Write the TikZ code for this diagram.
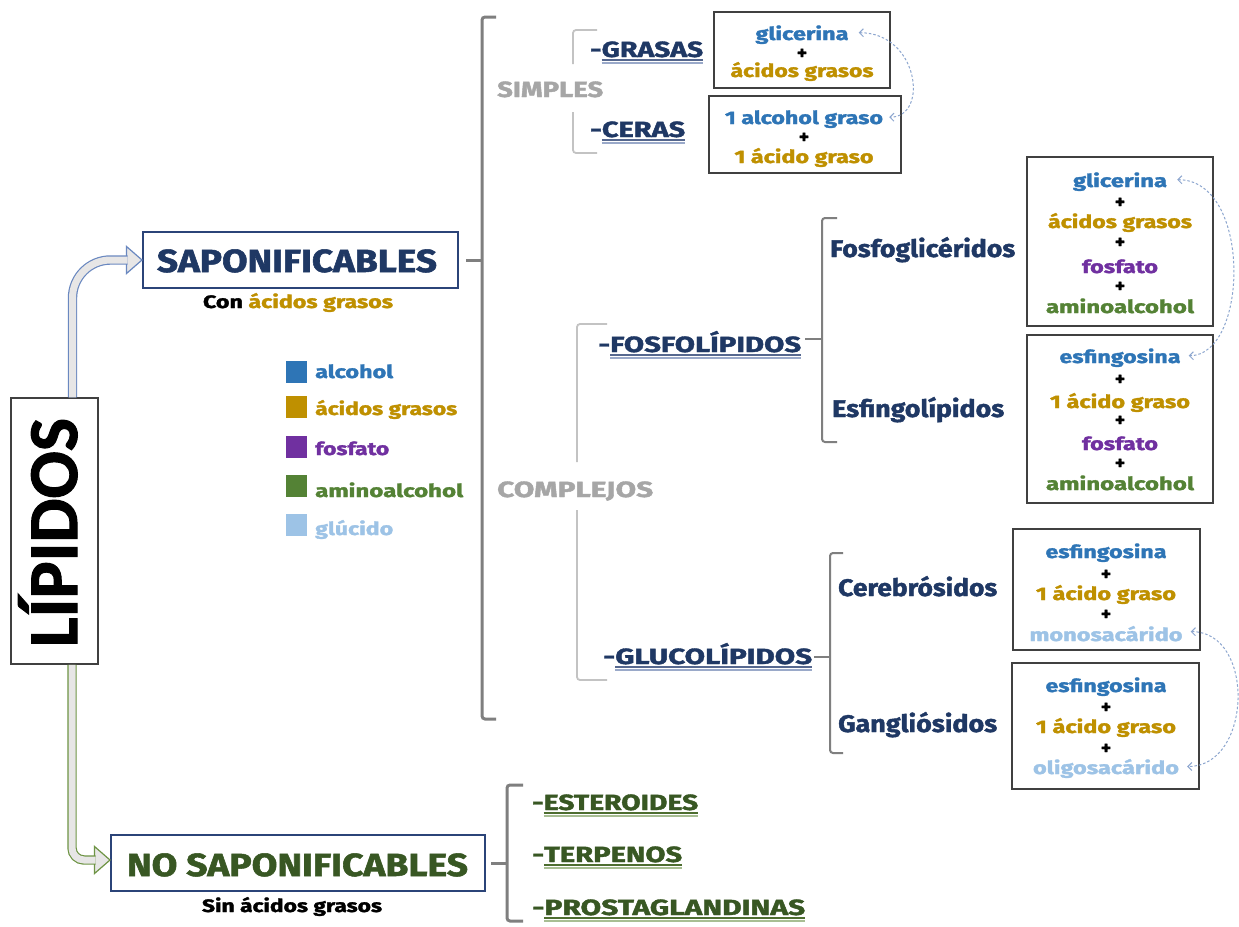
\documentclass[tikz,border=0pt]{standalone}
\usepackage{fontspec}
\setmainfont{Fira Sans}[BoldFeatures={FakeBold=1.6}]
\newfontfamily\titlefont{Carlito}[BoldFeatures={FakeBold=1.5}]
\usetikzlibrary{arrows.meta}

\definecolor{navy}{HTML}{1F3864}
\definecolor{navybox}{HTML}{2B4478}
\definecolor{ulnavyA}{HTML}{56688F}
\definecolor{ulnavyB}{HTML}{9AA9C9}
\definecolor{ulgreenA}{HTML}{4E6E30}
\definecolor{ulgreenB}{HTML}{A8BE93}
\definecolor{dgreen}{HTML}{385723}
\definecolor{brgrey}{HTML}{7F7F7F}
\definecolor{brlight}{HTML}{C3C3C3}
\definecolor{labgrey}{HTML}{A6A6A6}
\definecolor{boxgrey}{HTML}{404040}
\definecolor{cblue}{HTML}{2E75B6}
\definecolor{cgold}{HTML}{BF9000}
\definecolor{cpurple}{HTML}{7030A0}
\definecolor{cgreen}{HTML}{548235}
\definecolor{clight}{HTML}{9DC3E6}
\definecolor{arrblue}{HTML}{6A88C0}
\definecolor{arrgreen}{HTML}{6E9444}
\definecolor{arrfill}{HTML}{E7E6E6}
\definecolor{dashcol}{HTML}{8DA6CF}

% font size helper and horizontal fit to a given width
\newcommand\fsz[1]{\fontsize{#1}{#1}\selectfont}
\newcommand\fw[2]{\resizebox{#1pt}{\height}{#2}}
% double underline in two colours
\newsavebox\ulbox
\newcommand\dul[3]{\sbox\ulbox{#3}\rlap{\color{#1}\rule[-3.8pt]{\wd\ulbox}{1.4pt}}\rlap{\color{#2}\rule[-6.6pt]{\wd\ulbox}{1.4pt}}\usebox\ulbox}

\begin{document}
\begin{tikzpicture}[x=1pt,y=-1pt,font=\bfseries,
  txt/.style={inner sep=0pt,anchor=base},
  ltxt/.style={inner sep=0pt,anchor=base west},
  plus/.style={inner sep=0pt,anchor=center,font=\bfseries\fsz{19}},
  cbox/.style={draw=boxgrey,line width=1.5pt,inner sep=0pt},
  mainbox/.style={draw=navybox,line width=2pt,inner sep=0pt},
  bigbrk/.style={draw=brgrey,line width=3pt,rounded corners=3pt},
  midbrk/.style={draw=brgrey,line width=2pt,rounded corners=3pt},
  lightbrk/.style={draw=brlight,line width=1.8pt,rounded corners=3pt},
  dsh/.style={draw=dashcol,line width=1pt,dash pattern=on 2.5pt off 2pt,
    {Straight Barb[length=4pt,width=8pt]}-{Straight Barb[length=4pt,width=8pt]}},
  sq/.style={inner sep=0pt,minimum width=21pt,minimum height=22pt},
]
\useasboundingbox (0,0) rectangle (1239,926);
\fill[white] (0,0) rectangle (1239,926);

% ---------- title ----------
\node[cbox,minimum width=87pt,minimum height=266pt] (lip) at (54.5,531) {};
\node[inner sep=0pt,anchor=base,rotate=90,font=\titlefont\bfseries\fsz{70}] (liptxt) at (77,532.5) {\fw{229}{LÍPIDOS}};

% ---------- main branches ----------
\node[mainbox,minimum width=315pt,minimum height=56pt] (sap) at (300.5,260) {};
\node[txt,text=navy,font=\bfseries\fsz{32}] (saptxt) at (297,272) {\fw{280}{SAPONIFICABLES}};
\node[txt,font=\bfseries\fsz{18}] (con) at (298,308) {\fw{190}{Con \textcolor{cgold}{ácidos grasos}}};

\node[mainbox,minimum width=374pt,minimum height=56pt] (nosap) at (298,863) {};
\node[txt,text=dgreen,font=\bfseries\fsz{32}] (nosaptxt) at (297.5,876) {\fw{341}{NO SAPONIFICABLES}};
\node[txt,font=\bfseries\fsz{18}] (sin) at (292,912) {\fw{180}{Sin ácidos grasos}};

% hollow arrows from the title
\draw[line width=1.2pt,draw=arrblue,fill=arrfill,line join=miter]
  (sap.west) -- ++(-15.5,-13.5) -- ++(0,27) -- cycle;
\draw[draw=arrblue,double=arrfill,double distance=7pt,line width=1.2pt,rounded corners=38pt]
  ([xshift=18pt]lip.north) |- ([xshift=-14.5pt]sap.west);
\draw[line width=1.2pt,draw=arrgreen,fill=arrfill,line join=miter]
  ([yshift=3pt]nosap.west) -- ++(-15.5,-13.5) -- ++(0,27) -- cycle;
\draw[draw=arrgreen,double=arrfill,double distance=7pt,line width=1.2pt,rounded corners=12pt]
  ([xshift=17.5pt]lip.south) |- ([xshift=-14.5pt,yshift=3pt]nosap.west);

% ---------- legend ----------
\node[sq,fill=cblue] (sq1) at (296.5,372) {};
\node[sq,fill=cgold] (sq2) at (296.5,407) {};
\node[sq,fill=cpurple] (sq3) at (296.5,446.5) {};
\node[sq,fill=cgreen] (sq4) at (296.5,485.5) {};
\node[sq,fill=clight] (sq5) at (296.5,524.5) {};
\node[ltxt,text=cblue,font=\bfseries\fsz{18}] (lg1) at (315,378) {\fw{78}{alcohol}};
\node[ltxt,text=cgold,font=\bfseries\fsz{18}] (lg2) at (315,415) {\fw{142}{ácidos grasos}};
\node[ltxt,text=cpurple,font=\bfseries\fsz{18}] (lg3) at (315,455) {\fw{74}{fosfato}};
\node[ltxt,text=cgreen,font=\bfseries\fsz{18}] (lg4) at (315,497) {\fw{148}{aminoalcohol}};
\node[ltxt,text=clight,font=\bfseries\fsz{18}] (lg5) at (315,535) {\fw{78}{glúcido}};

% ---------- saponificables ----------
\draw[bigbrk] (496,17) -- (482,17) -- (482,719) -- (496,719);
\draw[bigbrk] ([xshift=7pt]sap.east) -- (482,260);

\node[ltxt,text=labgrey,font=\bfseries\fsz{22}] (simp) at (497,97) {\fw{106}{SIMPLES}};
\node[ltxt,text=labgrey,font=\bfseries\fsz{22}] (comp) at (497,497) {\fw{156}{COMPLEJOS}};

\draw[lightbrk] (597,30) -- (573,30) -- (573,64);
\draw[lightbrk] (573,112) -- (573,153) -- (597,153);
\draw[lightbrk] (607,324) -- (577,324) -- (577,462);
\draw[lightbrk] (577,510) -- (577,680) -- (607,680);

\node[ltxt,text=navy,font=\bfseries\fsz{22}] (gras) at (590,57) {\fw{113}{-\dul{ulnavyA}{ulnavyB}{GRASAS}}};
\node[ltxt,text=navy,font=\bfseries\fsz{22}] (cer) at (590,137) {\fw{95}{-\dul{ulnavyA}{ulnavyB}{CERAS}}};
\node[ltxt,text=navy,font=\bfseries\fsz{22}] (fosl) at (598,352) {\fw{203}{-\dul{ulnavyA}{ulnavyB}{FOSFOLÍPIDOS}}};
\node[ltxt,text=navy,font=\bfseries\fsz{22}] (glul) at (603,664) {\fw{209}{-\dul{ulnavyA}{ulnavyB}{GLUCOLÍPIDOS}}};

% composition of simple lipids
\node[cbox,minimum width=176pt,minimum height=76pt] (bx1) at (802,50) {};
\node[txt,text=cblue,font=\bfseries\fsz{18}] (gl1) at (802,40) {\fw{93}{glicerina}};
\node[plus] (p11) at (802,54) {+};
\node[txt,text=cgold,font=\bfseries\fsz{18}] (ag1) at (802,77) {\fw{143}{ácidos grasos}};

\node[cbox,minimum width=192pt,minimum height=77pt] (bx2) at (805,134.5) {};
\node[txt,text=cblue,font=\bfseries\fsz{18}] (alc2) at (804,124) {\fw{158}{1 alcohol graso}};
\node[plus] (p21) at (804,138) {+};
\node[txt,text=cgold,font=\bfseries\fsz{18}] (ag2) at (804,163) {\fw{139}{1 ácido graso}};

\draw[dsh] ([xshift=10pt,yshift=2pt]gl1.east) .. controls +(60,0) and +(40,0) .. ([xshift=6pt,yshift=2pt]alc2.east);

% ---------- phospholipids ----------
\draw[midbrk] (837,218) -- (822,218) -- (822,442) -- (837,442);
\draw[midbrk] (805,339) -- (822,339);

\node[ltxt,text=navy,font=\bfseries\fsz{24}] (fgl) at (830,257) {\fw{185}{Fosfoglicéridos}};
\node[ltxt,text=navy,font=\bfseries\fsz{24}] (esf) at (832,417) {\fw{172}{Esfingolípidos}};

\node[cbox,minimum width=186pt,minimum height=169pt] (bx3) at (1120,241.5) {};
\node[txt,text=cblue,font=\bfseries\fsz{18}] (gl3) at (1120,187) {\fw{94}{glicerina}};
\node[plus] (p31) at (1120,203) {+};
\node[txt,text=cgold,font=\bfseries\fsz{18}] (ag3) at (1120,228) {\fw{144}{ácidos grasos}};
\node[plus] (p32) at (1120,243) {+};
\node[txt,text=cpurple,font=\bfseries\fsz{18}] (fo3) at (1120,273) {\fw{76}{fosfato}};
\node[plus] (p33) at (1120,287) {+};
\node[txt,text=cgreen,font=\bfseries\fsz{18}] (am3) at (1120,313) {\fw{148}{aminoalcohol}};

\node[cbox,minimum width=186pt,minimum height=168pt] (bx4) at (1120,419) {};
\node[txt,text=cblue,font=\bfseries\fsz{18}] (es4) at (1120,363) {\fw{121}{esfingosina}};
\node[plus] (p41) at (1120,380) {+};
\node[txt,text=cgold,font=\bfseries\fsz{18}] (ag4) at (1120,408) {\fw{140}{1 ácido graso}};
\node[plus] (p42) at (1120,421) {+};
\node[txt,text=cpurple,font=\bfseries\fsz{18}] (fo4) at (1120,450) {\fw{76}{fosfato}};
\node[plus] (p43) at (1120,464) {+};
\node[txt,text=cgreen,font=\bfseries\fsz{18}] (am4) at (1120,490) {\fw{148}{aminoalcohol}};

\draw[dsh] ([xshift=10pt,yshift=2pt]gl3.east) .. controls +(75,0) and +(60,0) .. ([xshift=8pt,yshift=2pt]es4.east);

% ---------- glycolipids ----------
\draw[midbrk] (843,553) -- (830,553) -- (830,753) -- (843,753);
\draw[midbrk] (814,657) -- (830,657);

\node[ltxt,text=navy,font=\bfseries\fsz{24}] (cere) at (838,596) {\fw{159}{Cerebrósidos}};
\node[ltxt,text=navy,font=\bfseries\fsz{24}] (gang) at (838,732) {\fw{159}{Gangliósidos}};

\node[cbox,minimum width=187pt,minimum height=121pt] (bx5) at (1106.5,589.5) {};
\node[txt,text=cblue,font=\bfseries\fsz{18}] (es5) at (1106,558) {\fw{121}{esfingosina}};
\node[plus] (p51) at (1106,575) {+};
\node[txt,text=cgold,font=\bfseries\fsz{18}] (ag5) at (1106,600) {\fw{140}{1 ácido graso}};
\node[plus] (p52) at (1106,615) {+};
\node[txt,text=clight,font=\bfseries\fsz{18}] (mono) at (1106,641) {\fw{153}{monosacárido}};

\node[cbox,minimum width=187pt,minimum height=126pt] (bx6) at (1105.5,726) {};
\node[txt,text=cblue,font=\bfseries\fsz{18}] (es6) at (1106,692) {\fw{121}{esfingosina}};
\node[plus] (p61) at (1106,708) {+};
\node[txt,text=cgold,font=\bfseries\fsz{18}] (ag6) at (1106,733) {\fw{140}{1 ácido graso}};
\node[plus] (p62) at (1106,749) {+};
\node[txt,text=clight,font=\bfseries\fsz{18}] (oligo) at (1106,774) {\fw{146}{oligosacárido}};

\draw[dsh] ([xshift=8pt,yshift=2pt]mono.east) .. controls +(65,0) and +(65,0) .. ([xshift=8pt,yshift=2pt]oligo.east);

% ---------- no saponificables ----------
\draw[bigbrk] (523,785) -- (507,785) -- (507,921) -- (523,921);
\draw[bigbrk] ([xshift=5pt]nosap.east) -- (507,863);

\node[ltxt,text=dgreen,font=\bfseries\fsz{22}] (est) at (532,810) {\fw{166}{-\dul{ulgreenA}{ulgreenB}{ESTEROIDES}}};
\node[ltxt,text=dgreen,font=\bfseries\fsz{22}] (ter) at (532,862) {\fw{150}{-\dul{ulgreenA}{ulgreenB}{TERPENOS}}};
\node[ltxt,text=dgreen,font=\bfseries\fsz{22}] (pro) at (532,915) {\fw{273}{-\dul{ulgreenA}{ulgreenB}{PROSTAGLANDINAS}}};
\end{tikzpicture}
\end{document}
